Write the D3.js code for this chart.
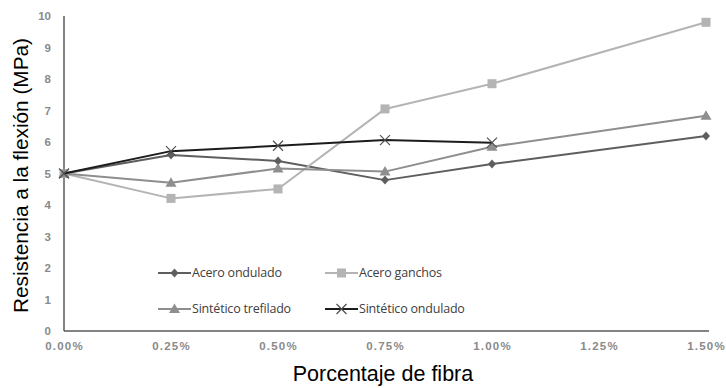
<!DOCTYPE html>
<html>
<head>
<meta charset="utf-8">
<script src="https://cdn.jsdelivr.net/npm/d3@7"></script>
<style>
  html, body { margin: 0; padding: 0; background: #fff; }
  svg { display: block; }
</style>
</head>
<body>
<svg id="chart" width="726" height="388"></svg>
<script>
// Fibre content (%) on the x axis
const fibra = [0, 0.25, 0.5, 0.75, 1.0, 1.5];
const xTicks = [0, 0.25, 0.5, 0.75, 1.0, 1.25, 1.5];
const yTicks = [0, 1, 2, 3, 4, 5, 6, 7, 8, 9, 10];

// Flexural strength (MPa) per fibre type
const aceroOndulado = [5.0, 5.59, 5.40, 4.79, 5.30, 6.19];
const aceroGanchos = [5.0, 4.21, 4.51, 7.05, 7.85, 9.80];
const sinteticoTrefilado = [5.0, 4.71, 5.16, 5.06, 5.85, 6.83];
const sinteticoOndulado = [5.0, 5.71, 5.88, 6.06, 5.98, null];

const seriesNames = ["Acero ondulado", "Acero ganchos", "Sintético trefilado", "Sintético ondulado"];

const series = [
  { name: seriesNames[0], values: aceroOndulado, color: "#5e5e5e", marker: "diamond" },
  { name: seriesNames[1], values: aceroGanchos, color: "#b4b4b4", marker: "square" },
  { name: seriesNames[2], values: sinteticoTrefilado, color: "#8e8e8e", marker: "triangle" },
  { name: seriesNames[3], values: sinteticoOndulado, color: "#1c1c1c", marker: "cross" }
];

const svg = d3.select("#chart");
const x = d3.scaleLinear().domain([0, 1.5]).range([64, 706]);
const y = d3.scaleLinear().domain([0, 10]).range([331, 16]);

// Axes
const tickFont = "'Liberation Sans', Arial, sans-serif";
const yAxis = svg.append("g")
  .attr("transform", `translate(${x(0)},0)`)
  .call(d3.axisLeft(y).tickValues(yTicks).tickSize(0).tickPadding(13).tickFormat(d3.format("d")));
yAxis.select(".domain").remove();
yAxis.selectAll("text")
  .attr("fill", "#8a8a8a").attr("font-family", tickFont)
  .attr("font-size", 11.5).attr("font-weight", "bold");

const xAxis = svg.append("g")
  .attr("transform", `translate(0,${y(0)})`)
  .call(d3.axisBottom(x).tickValues(xTicks).tickSize(0).tickPadding(11)
    .tickFormat(d => d.toFixed(2) + "%"));
xAxis.select(".domain").remove();
xAxis.selectAll("text")
  .attr("fill", "#8a8a8a").attr("font-family", tickFont)
  .attr("font-size", 11.5).attr("font-weight", "bold")
  .attr("letter-spacing", "1.2px");

svg.append("line")
  .attr("x1", x(0)).attr("x2", x(0)).attr("y1", y(10)).attr("y2", y(0))
  .attr("stroke", "#5a5a5a").attr("stroke-width", 1.5);
svg.append("line")
  .attr("x1", x(0)).attr("x2", 709).attr("y1", y(0)).attr("y2", y(0))
  .attr("stroke", "#5a5a5a").attr("stroke-width", 1.5);

// Axis titles
const titleFont = "'Liberation Sans', Arial, sans-serif";
svg.append("text")
  .attr("transform", `translate(28,${(y(0) + y(10)) / 2 + 2}) rotate(-90)`)
  .attr("text-anchor", "middle")
  .attr("font-family", titleFont).attr("font-size", 20.8).attr("fill", "#000")
  .text("Resistencia a la flexión (MPa)");
svg.append("text")
  .attr("x", 383).attr("y", 381)
  .attr("text-anchor", "middle")
  .attr("font-family", titleFont).attr("font-size", 21.5).attr("fill", "#000")
  .text("Porcentaje de fibra");

// Marker drawing
function drawMarker(g, type, color, cx, cy) {
  if (type === "diamond") {
    g.append("path").attr("d", `M${cx},${cy - 4.5}L${cx + 4},${cy}L${cx},${cy + 4.5}L${cx - 4},${cy}Z`)
      .attr("fill", color);
  } else if (type === "square") {
    g.append("rect").attr("x", cx - 4.5).attr("y", cy - 4.5).attr("width", 9).attr("height", 9)
      .attr("fill", color);
  } else if (type === "triangle") {
    g.append("path").attr("d", `M${cx},${cy - 5.5}L${cx + 5.5},${cy + 4}L${cx - 5.5},${cy + 4}Z`)
      .attr("fill", color);
  } else if (type === "cross") {
    g.append("path").attr("d", `M${cx - 5},${cy - 5}L${cx + 5},${cy + 5}M${cx + 5},${cy - 5}L${cx - 5},${cy + 5}`)
      .attr("stroke", "#505050").attr("stroke-width", 1.2).attr("fill", "none");
  }
}

const line = d3.line()
  .defined(d => d[1] !== null)
  .x(d => x(d[0])).y(d => y(d[1]));

const plot = svg.append("g");
series.forEach(s => {
  const pts = fibra.map((f, i) => [f, s.values[i]]);
  plot.append("path")
    .datum(pts)
    .attr("d", line)
    .attr("fill", "none")
    .attr("stroke", s.color)
    .attr("stroke-width", 2)
    .attr("stroke-linejoin", "round");
  const mg = plot.append("g");
  pts.filter(p => p[1] !== null).forEach(p => drawMarker(mg, s.marker, s.color, x(p[0]), y(p[1])));
});

// Legend
const legendPos = [[158, 273], [325, 273], [158, 309], [325, 309]];
series.forEach((s, i) => {
  const [lx, ly] = legendPos[i];
  const g = svg.append("g");
  g.append("line").attr("x1", lx).attr("x2", lx + 33).attr("y1", ly).attr("y2", ly)
    .attr("stroke", s.color).attr("stroke-width", 2);
  drawMarker(g, s.marker, s.color, lx + 16.5, ly);
  g.append("text")
    .attr("x", lx + 34).attr("y", ly + 4)
    .attr("font-family", "'Open Sans', sans-serif").attr("font-size", 12.5)
    .attr("fill", "#404040")
    .attr("letter-spacing", "-0.2px")
    .text(s.name);
});
</script>
</body>
</html>
